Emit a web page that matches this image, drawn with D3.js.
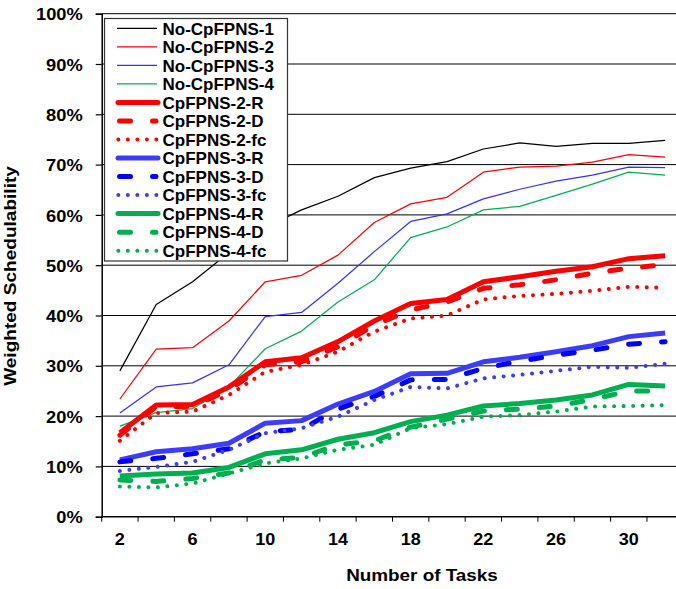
<!DOCTYPE html>
<html>
<head>
<meta charset="utf-8">
<script src="https://cdn.jsdelivr.net/npm/d3@7"></script>
<style>
  html, body { margin: 0; padding: 0; background: #fff; }
  svg { display: block; }
  text { font-family: "Liberation Sans", Arial, sans-serif; font-weight: bold; fill: #000; }
</style>
</head>
<body>
<svg id="chart" width="676" height="589"></svg>
<script>
const categories = [2, 4, 6, 8, 10, 12, 14, 16, 18, 20, 22, 24, 26, 28, 30, 32];
const xTickLabels = ["2", "6", "10", "14", "18", "22", "26", "30"];
const yTicks = [0, 10, 20, 30, 40, 50, 60, 70, 80, 90, 100];

const noCp1 = [29.0, 42.2, 46.7, 52.5, 57.5, 61.0, 63.7, 67.4, 69.3, 70.6, 73.1, 74.3, 73.6, 74.2, 74.2, 74.8];
const noCp2 = [23.4, 33.3, 33.6, 38.9, 46.7, 48.0, 52.0, 58.5, 62.2, 63.5, 68.5, 69.5, 69.7, 70.5, 72.0, 71.5];
const noCp3 = [20.6, 25.8, 26.6, 30.2, 39.8, 40.6, 46.4, 52.7, 58.7, 60.2, 63.2, 65.1, 66.7, 67.9, 69.5, 69.4];
const noCp4 = [18.0, 20.7, 21.5, 25.8, 33.4, 36.9, 42.7, 47.1, 55.5, 57.6, 61.0, 61.7, 63.9, 66.1, 68.5, 67.9];
const cp2R  = [16.7, 22.2, 22.3, 25.8, 30.8, 31.6, 34.8, 38.9, 42.4, 43.2, 46.7, 47.7, 48.8, 49.7, 51.3, 51.9];
const cp2D  = [16.2, 21.9, 21.9, 25.2, 30.2, 30.8, 33.8, 38.1, 41.1, 42.7, 45.4, 46.1, 47.1, 48.4, 49.4, 50.1];
const cp2fc = [15.1, 20.6, 20.9, 24.2, 28.8, 30.2, 32.8, 36.8, 39.4, 40.0, 43.2, 43.9, 44.3, 44.9, 45.7, 45.5];
const cp3R  = [11.3, 12.9, 13.5, 14.6, 18.6, 19.1, 22.4, 24.9, 28.4, 28.5, 30.8, 31.7, 32.8, 34.0, 35.8, 36.5];
const cp3D  = [10.9, 11.6, 12.5, 13.5, 16.9, 17.4, 21.4, 23.9, 27.2, 27.3, 29.5, 30.9, 32.1, 33.1, 34.3, 34.8];
const cp3fc = [9.1, 9.9, 10.9, 13.3, 16.6, 17.6, 19.9, 23.2, 25.8, 25.5, 27.5, 28.2, 29.0, 29.8, 29.6, 30.4];
const cp4R  = [8.1, 8.5, 8.7, 9.8, 12.5, 13.3, 15.4, 16.7, 18.9, 20.2, 22.0, 22.5, 23.2, 24.2, 26.3, 26.0];
const cp4D  = [7.3, 7.0, 7.6, 8.7, 11.3, 11.8, 14.3, 15.1, 17.8, 19.4, 21.0, 21.4, 22.0, 23.3, 25.0, 25.0];
const cp4fc = [6.0, 5.8, 6.6, 8.6, 10.6, 11.6, 13.3, 14.3, 17.6, 18.4, 19.9, 20.2, 20.9, 21.9, 22.0, 22.2];

const seriesNames = ["No-CpFPNS-1", "No-CpFPNS-2", "No-CpFPNS-3", "No-CpFPNS-4",
  "CpFPNS-2-R", "CpFPNS-2-D", "CpFPNS-2-fc",
  "CpFPNS-3-R", "CpFPNS-3-D", "CpFPNS-3-fc",
  "CpFPNS-4-R", "CpFPNS-4-D", "CpFPNS-4-fc"];
const seriesValues = [noCp1, noCp2, noCp3, noCp4, cp2R, cp2D, cp2fc, cp3R, cp3D, cp3fc, cp4R, cp4D, cp4fc];

(function () {
const RED = "#ff0000", BLUE = "#3c3cff", BLUE_D = "#0000ff", GREEN = "#00b050";
const styles = [
  {color: "#000000", w: 1.25, dash: null},
  {color: RED, w: 1.25, dash: null},
  {color: "#3333ff", w: 1.25, dash: null},
  {color: GREEN, w: 1.25, dash: null},
  {color: RED, w: 5, dash: null},
  {color: RED, w: 5, dash: "11,22"},
  {color: RED, w: 4, dash: "0.01,9.5"},
  {color: BLUE, w: 5, dash: null},
  {color: BLUE_D, w: 5, dash: "11,22"},
  {color: BLUE, w: 4, dash: "0.01,9.5"},
  {color: GREEN, w: 5, dash: null},
  {color: GREEN, w: 5, dash: "11,22"},
  {color: GREEN, w: 4, dash: "0.01,9.5"}
];

const svg = d3.select("#chart");
const plotLeft = 101.7, plotBottom = 516.7, plotTop = 13.7;
const x = d3.scaleBand().domain(categories).range([plotLeft, plotLeft + 16 * 36.35]).padding(0);
const y = d3.scaleLinear().domain([0, 100]).range([plotBottom, plotTop]);
const cx = c => x(c) + x.bandwidth() / 2;

function stretch(sel, k) {
  sel.each(function () {
    const len = this.getComputedTextLength();
    d3.select(this).attr("textLength", len * k).attr("lengthAdjust", "spacingAndGlyphs");
  });
}

// gridlines
svg.append("g").selectAll("line").data(yTicks.filter(t => t > 0)).join("line")
  .attr("x1", plotLeft).attr("x2", 676)
  .attr("y1", d => y(d)).attr("y2", d => y(d))
  .attr("stroke", "#000").attr("stroke-width", 1);

// y axis
const yAxis = d3.axisLeft(y).tickValues(yTicks).tickSize(6).tickPadding(13)
  .tickFormat(d => d + "%");
const gy = svg.append("g").attr("transform", `translate(${plotLeft},0)`).call(yAxis);
gy.select(".domain").attr("stroke", "#000").attr("stroke-width", 1.5);
gy.selectAll(".tick line").attr("stroke", "#000").attr("stroke-width", 1.2);
gy.selectAll(".tick text").style("font-size", "17px").attr("font-family", null)
  .attr("dy", "0.36em");
stretch(gy.selectAll(".tick text"), 1.075);

// x axis line
svg.append("line").attr("x1", plotLeft).attr("x2", 676).attr("y1", plotBottom).attr("y2", plotBottom)
  .attr("stroke", "#000").attr("stroke-width", 1.5);
// x ticks at category boundaries
const boundaries = categories.map(c => x(c));
svg.append("g").selectAll("line").data(boundaries).join("line")
  .attr("x1", d => d).attr("x2", d => d).attr("y1", plotBottom).attr("y2", plotBottom + 5)
  .attr("stroke", "#000").attr("stroke-width", 1);
// x labels
const xl = svg.append("g").selectAll("text").data(xTickLabels).join("text")
  .attr("x", d => cx(+d)).attr("y", 545)
  .attr("text-anchor", "middle").style("font-size", "17px").text(d => d);
stretch(xl, 1.06);

// axis titles
const xt = svg.append("text").attr("x", 422).attr("y", 580.5).attr("text-anchor", "middle")
  .style("font-size", "17px").text("Number of Tasks");
stretch(xt, 1.11);
const yt = svg.append("text").attr("transform", "translate(16,276) rotate(-90)")
  .attr("text-anchor", "middle").style("font-size", "17px").text("Weighted Schedulability");
stretch(yt, 1.12);

// lines
const line = d3.line().x((d, i) => cx(categories[i])).y(d => y(d));
const gl = svg.append("g");
seriesValues.forEach((vals, i) => {
  const s = styles[i];
  gl.append("path").datum(vals).attr("d", line)
    .attr("fill", "none").attr("stroke", s.color).attr("stroke-width", s.w)
    .attr("stroke-linejoin", "round")
    .attr("stroke-linecap", s.dash ? "round" : "butt")
    .attr("stroke-dasharray", s.dash);
});

// legend
const lg = svg.append("g");
lg.append("rect").attr("x", 104.5).attr("y", 18.5).attr("width", 183).attr("height", 242.5)
  .attr("fill", "#fff").attr("stroke", "#333").attr("stroke-width", 1.2);
const rowY = i => 28.3 + i * 18.53;
seriesNames.forEach((name, i) => {
  const s = styles[i];
  const yy = rowY(i);
  if (s.dash && s.dash.startsWith("0")) {
    lg.append("line").attr("x1", 118.3).attr("x2", 157).attr("y1", yy).attr("y2", yy)
      .attr("stroke", s.color).attr("stroke-width", s.w).attr("stroke-linecap", "round")
      .attr("stroke-dasharray", s.dash);
  } else if (s.dash) {
    lg.append("line").attr("x1", 119.5).attr("x2", 156).attr("y1", yy).attr("y2", yy)
      .attr("stroke", s.color).attr("stroke-width", s.w).attr("stroke-linecap", "round")
      .attr("stroke-dasharray", "11,22");
  } else {
    lg.append("line").attr("x1", s.w > 2 ? 118 : 117).attr("x2", s.w > 2 ? 158 : 157)
      .attr("y1", yy).attr("y2", yy)
      .attr("stroke", s.color).attr("stroke-width", s.w)
      .attr("stroke-linecap", s.w > 2 ? "round" : "butt");
  }
  lg.append("text").attr("x", 162.5).attr("y", yy + 6.2).style("font-size", "17px").text(name);
});
})();
</script>
</body>
</html>
